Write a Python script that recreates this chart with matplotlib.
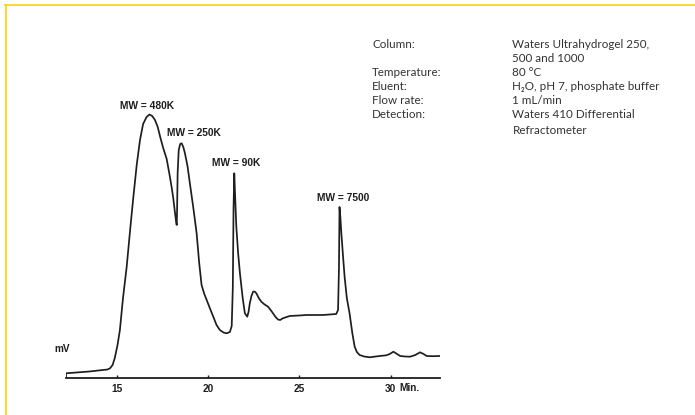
import matplotlib
matplotlib.use("Agg")
import matplotlib.pyplot as plt
from matplotlib.lines import Line2D

# chromatogram trace (minutes, signal in arbitrary units)
time_min = [12.23, 12.23, 13.5, 14.5, 14.64, 14.78, 14.9, 15.05, 15.18, 15.35, 15.55,
            15.75, 15.9, 16.1, 16.28, 16.45, 16.64, 16.8, 16.95, 17.1, 17.25,
            17.4, 17.55, 17.74, 17.9, 18.01, 18.1, 18.19, 18.26, 18.29, 18.31,
            18.34, 18.4, 18.48, 18.56, 18.65, 18.74, 18.88, 19.01, 19.2, 19.38,
            19.52, 19.65, 19.8, 19.93, 20.1, 20.29, 20.47, 20.65, 20.85, 21.02,
            21.2, 21.3, 21.36, 21.4, 21.44, 21.48, 21.55, 21.65, 21.75, 21.9,
            22.02, 22.15, 22.22, 22.29, 22.38, 22.47, 22.55, 22.65, 22.78, 22.92,
            23.1, 23.29, 23.45, 23.56, 23.7, 23.83, 23.95, 24.1, 24.47, 25.0,
            25.38, 26.29, 27.02, 27.12, 27.17, 27.2, 27.25, 27.3, 27.4, 27.48,
            27.6, 27.75, 27.9, 28.03, 28.15, 28.3, 28.55, 28.85, 29.1, 29.4,
            29.76, 29.95, 30.15, 30.35, 30.52, 30.8, 31.06, 31.35, 31.61, 31.8,
            31.97, 32.3, 32.7]
signal = [0, 4.7, 6.5, 8.5, 9.7, 13, 20, 33, 48, 80, 111,
          150, 178, 213, 238, 254, 261, 263.5, 262, 258, 251,
          240, 230, 219, 203, 191, 180, 166, 156, 153, 168,
          205, 228, 234, 234.7, 231, 224.7, 212, 194.7, 170, 144.7,
          115, 93, 84, 78, 70, 61.3, 53, 48, 45.5, 44.7,
          46, 52, 90, 170, 204.7, 185, 152, 125, 104.7, 80,
          64.7, 61.3, 66, 74.7, 82, 86.3, 86.5, 84.7, 80, 76.3,
          73.5, 71.3, 67.5, 64.7, 61, 58.5, 58, 59.7, 62, 62.5,
          63, 63, 64, 68, 110, 171, 160, 145, 120, 101,
          80, 64.7, 45, 31.3, 26, 23, 21.5, 20.7, 21.3, 22,
          22.7, 24, 26.3, 24, 22, 21.5, 21.3, 23, 25.7, 24,
          22, 21.8, 22]

xticks = [15, 20, 25, 30]
xtick_labels = ["15", "20", "25", "30"]

peak_labels = ["MW = 480K", "MW = 250K", "MW = 90K", "MW = 7500"]
peak_label_x = [16.69, 19.24, 21.56, 27.39]
peak_label_y = [272, 244.7, 214.7, 180.3]

cond_names = ["Column:", "", "Temperature:", "Eluent:", "Flow rate:", "Detection:", ""]
cond_values = ["Waters Ultrahydrogel 250,", "500 and 1000", "80 \u00b0C",
               "H\u2082O, pH 7, phosphate buffer", "1 mL/min",
               "Waters 410 Differential", "Refractometer"]

W, H = 695, 415
fig = plt.figure(figsize=(W / 100, H / 100), dpi=100)

# yellow frame (top and left only)
fig.add_artist(Line2D([5 / W, 1], [1 - 5 / H, 1 - 5 / H], color="#ffd200", lw=1.2,
                      transform=fig.transFigure))
fig.add_artist(Line2D([6 / W, 6 / W], [0, 1 - 5 / H], color="#ffd200", lw=1.2,
                      transform=fig.transFigure))

ax = fig.add_axes([66 / W, (H - 378) / H, (440 - 66) / W, 278 / H])
ax.plot(time_min, signal, color="#1e1e1e", lw=1.25, solid_joinstyle="round")
ax.set_xlim(12.23, 32.7)
ax.set_ylim(0, 278)
for s in ["top", "left", "right"]:
    ax.spines[s].set_visible(False)
ax.spines["bottom"].set_linewidth(1.3)
ax.spines["bottom"].set_color("#1e1e1e")
ax.set_yticks([])
ax.set_xticks(xticks)
ax.set_xticklabels(xtick_labels, family="Liberation Sans", weight="bold",
                   fontsize=7.3, color="#1e1e1e")
ax.tick_params(axis="x", direction="in", length=2.5, width=1, pad=4, color="#1e1e1e")
ax.text(30.45, -10, "Min.", family="Liberation Sans", weight="bold", fontsize=7.3,
        color="#1e1e1e", ha="left", va="center")

for lab, x, y in zip(peak_labels, peak_label_x, peak_label_y):
    ax.text(x, y, lab, family="Liberation Sans", weight="bold", fontsize=7.4,
            color="#1e1e1e", ha="center", va="center")

fig.text(54 / W, 1 - 349 / H, "mV", family="Liberation Sans", weight="bold",
         fontsize=7.2, color="#1e1e1e", ha="left", va="center")

row_y = [45, 58.5, 72.7, 86.7, 100.7, 115, 130]
for name, val, y in zip(cond_names, cond_values, row_y):
    if name:
        fig.text(372 / W, 1 - y / H, name, family=["Lato", "DejaVu Sans"],
                 fontsize=8.4, color="#333333", ha="left", va="center")
    fig.text(512.5 / W, 1 - y / H, val, family=["Lato", "DejaVu Sans"],
             fontsize=8.4, color="#333333", ha="left", va="center")

fig.savefig("out.png", dpi=100)
